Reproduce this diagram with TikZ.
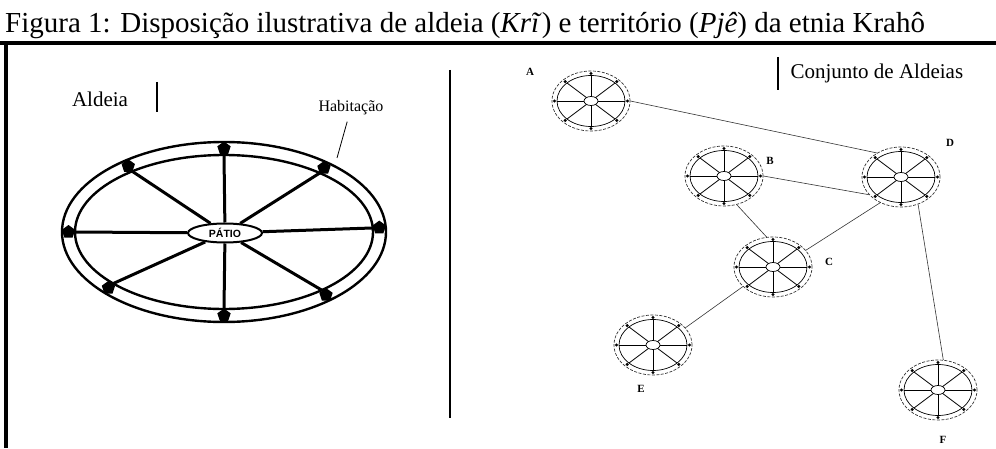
\documentclass[tikz,border=0pt]{standalone}
\usepackage{fontspec}
\setmainfont{Liberation Serif}
\setsansfont{Liberation Sans}
\usetikzlibrary{shapes.geometric,calc}

\tikzset{
  ring/.style={line width=2.4pt},
  spoke/.style={line width=3pt},
  house/.style={regular polygon, regular polygon sides=5, fill=black, inner sep=0pt, minimum size=14pt},
  village/.style={ellipse, draw=black!80, dash pattern=on 3pt off 1.5pt, line width=0.7pt,
    minimum width=78pt, minimum height=60pt, inner sep=0pt},
  vlabel/.style={font=\bfseries\fontsize{11}{13}\selectfont},
  link/.style={line width=0.6pt, black!80},
}

\begin{document}
\begin{tikzpicture}[x=1pt,y=1pt, every node/.style={font=\fontsize{21}{24}\selectfont}]
\useasboundingbox (0,0) rectangle (996,448);
% title and frame
\node[anchor=base west, inner sep=0pt, font=\fontsize{29}{32}\selectfont] (title) at (5,415)
  {Figura 1: Disposição ilustrativa de aldeia (\textit{Krĩ}) e território (\textit{Pjê}) da etnia Krahô};
\fill (0,403) rectangle (996,407);
\fill (4,0) rectangle (8,407);
\draw[line width=2pt] (449.5,378) -- (449.5,30);

% aldeia
\node (aldeia) at (100,349) {Aldeia};
\draw[line width=1.3pt] (157,366) -- (157,336);
\node[ellipse, draw, line width=2pt, fill=white, minimum width=74pt, minimum height=19pt, inner sep=0pt,
  font=\sffamily\bfseries\fontsize{10.5}{12}\selectfont] (patio) at (225,215) {PÁTIO};
\draw[ring] (224,216) ellipse (162 and 90);
\draw[ring] (224,216) ellipse (149 and 77);
\foreach \a [count=\i] in {90,50,3,311,270,222,180,128} {
  \draw[spoke] (patio) -- ($(224,216)+(\a:149 and 77)$);
  \node[house] (h\i) at ($(224,216)+(\a:155.5 and 83.5)$) {};
}
\node[font=\fontsize{16}{18}\selectfont] (habit) at (351,340) {Habitação};
\coordinate (hpt) at (337,290);
\draw[line width=0.8pt, shorten <=3pt] (habit) -- (hpt);

% conjunto de aldeias
\draw[line width=1.3pt] (778,391) -- (778,358);
\node[anchor=west] (conj) at (787,375) {Conjunto de Aldeias};
\foreach \n/\x/\y in {A/591/347,B/724/272,C/773/181,D/901/271,E/653/103,F/938/58} {
  \node[village] (\n) at (\x,\y) {};
  \begin{scope}[shift={(\x,\y)}]
    \draw[line width=0.7pt] (0,0) ellipse (34 and 25.5);
    \foreach \a in {0,45,...,315} {
      \draw[line width=0.8pt] (0,0) -- (\a:34 and 25.5);
      \fill (\a:36.5 and 27.5) circle (1.7);
    }
    \draw[line width=0.7pt, fill=white] (0,0) ellipse (7 and 4.5);
  \end{scope}
}
\foreach \n/\x/\y in {A/530/376,B/770/287,C/829/186,D/950/305,E/641/59,F/943/8}
  \node[vlabel] (lab\n) at (\x,\y) {\n};
\draw[link] (A.east) -- (D.135);
\draw[link] (B.east) -- (D.209);
\draw[link] (B.294) -- (C.102);
\draw[link] (C.27) -- (D.231);
\draw[link] (C.213) -- (E.28);
\draw[link] (D.302) -- (F.80);
\end{tikzpicture}
\end{document}
